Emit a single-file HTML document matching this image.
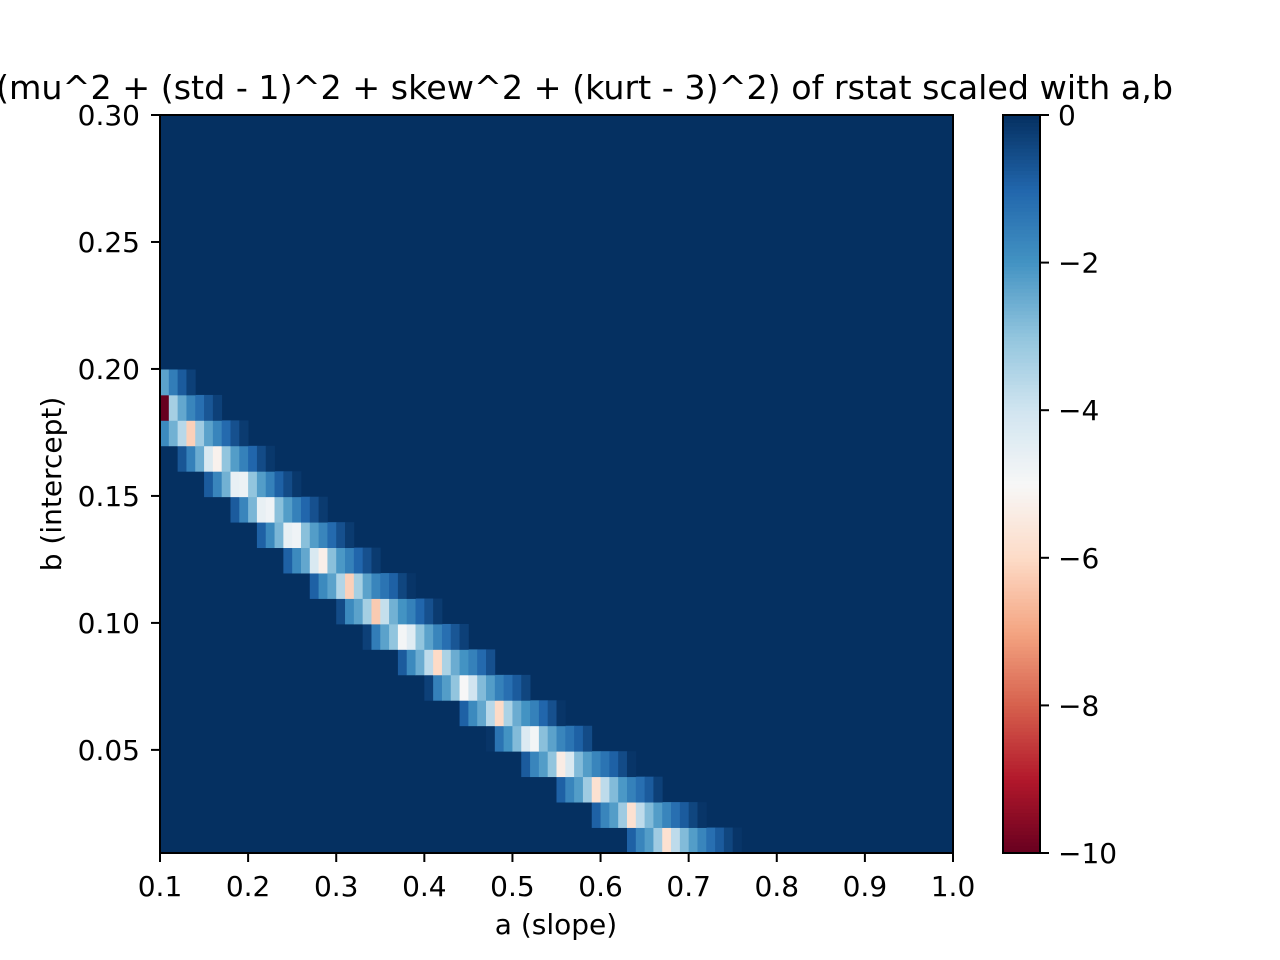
<!DOCTYPE html>
<html><head><meta charset="utf-8"><style>
html,body{margin:0;padding:0;background:#fff;width:1280px;height:960px;overflow:hidden}
svg text{font-family:"DejaVu Sans","Liberation Sans",sans-serif;fill:#000}
</style></head><body>
<svg id="chart" width="1280" height="960" viewBox="0 0 1280 960" xmlns="http://www.w3.org/2000/svg">
<g id="cells"></g>
<g id="axes"></g>
<g id="cbar"></g>
<text x="-4" y="99" font-size="33.2" textLength="1177" lengthAdjust="spacingAndGlyphs">(mu^2 + (std - 1)^2 + skew^2 + (kurt - 3)^2) of rstat scaled with a,b</text>
<text x="556" y="934" font-size="28" text-anchor="middle">a (slope)</text>
<text x="0" y="0" font-size="28" text-anchor="middle" transform="translate(61,484) rotate(-90)">b (intercept)</text>
</svg>
<script>
// data: rows from bottom (r=0 .. 28), 90 columns (a = 0.1..1.0), 29 rows (b = 0.01..0.30)
const nCols = 90;
const nRows = 29;
const rowIndex = [18,17,16,15,14,13,12,11,10,9,8,7,6,5,4,3,2,1,0];
const rowStart = [0,0,0,2,5,8,11,14,17,20,23,27,30,34,37,41,45,49,53];
const rowValues = [
 [-2.3,-1.5,-0.8,-0.3],
 [-10,-3.3,-2.4,-1.7,-1.2,-0.7,-0.3],
 [-1.8,-2.6,-3.6,-6.2,-3.2,-2.3,-1.7,-1.1,-0.6,-0.2],
 [-0.7,-1.6,-2.5,-4.2,-5.2,-3.0,-2.2,-1.6,-1.0,-0.5,-0.15],
 [-0.8,-1.7,-2.6,-4.6,-4.7,-3.0,-2.2,-1.6,-0.9,-0.5,-0.15],
 [-0.8,-1.7,-2.7,-4.6,-4.8,-2.9,-2.2,-1.6,-1.0,-0.6,-0.2],
 [-0.9,-1.8,-2.7,-4.6,-4.8,-2.9,-2.2,-1.7,-1.1,-0.6,-0.2],
 [-0.9,-1.8,-2.4,-4.2,-5.3,-2.9,-2.1,-1.6,-1.0,-0.6,-0.2],
 [-0.9,-1.8,-2.3,-3.5,-6.2,-3.3,-2.3,-1.7,-1.3,-0.9,-0.4,-0.1],
 [-0.5,-1.8,-2.3,-3.3,-6.3,-3.8,-2.6,-2.0,-1.6,-1.0,-0.6,-0.2],
 [-0.3,-1.5,-2.3,-3.0,-4.9,-4.4,-3.0,-2.3,-1.7,-1.2,-0.7,-0.3],
 [-0.8,-1.8,-2.5,-3.7,-6.0,-3.4,-2.5,-2.0,-1.6,-1.1,-0.6],
 [-0.3,-1.6,-2.2,-3.0,-5.0,-4.0,-2.8,-2.2,-1.6,-1.2,-0.8,-0.4],
 [-0.9,-1.8,-2.4,-3.6,-6.0,-3.4,-2.5,-2.0,-1.6,-1.0,-0.6,-0.1],
 [-0.1,-1.3,-2.0,-2.8,-4.3,-4.9,-2.9,-2.3,-1.7,-1.3,-0.9,-0.5],
 [-0.8,-1.7,-2.2,-3.0,-5.4,-4.2,-2.8,-2.2,-1.7,-1.3,-0.9,-0.5,-0.1],
 [-0.9,-1.7,-2.2,-3.2,-5.8,-3.7,-2.8,-2.1,-1.6,-1.2,-0.8,-0.3],
 [-0.9,-1.7,-2.2,-3.2,-5.8,-3.7,-2.8,-2.2,-1.7,-1.2,-0.8,-0.4,-0.1],
 [-0.9,-1.7,-2.2,-3.2,-5.8,-3.7,-2.8,-2.2,-1.7,-1.2,-0.8,-0.4,-0.1]
];
const xTicks = [0.1,0.2,0.3,0.4,0.5,0.6,0.7,0.8,0.9,1.0];
const xTickLabels = ["0.1","0.2","0.3","0.4","0.5","0.6","0.7","0.8","0.9","1.0"];
const yTicks = [0.05,0.10,0.15,0.20,0.25,0.30];
const yTickLabels = ["0.05","0.10","0.15","0.20","0.25","0.30"];
const cTicks = [0,-2,-4,-6,-8,-10];
const cTickLabels = ["0","\u22122","\u22124","\u22126","\u22128","\u221210"];

const NS="http://www.w3.org/2000/svg";
const L=160,R=953,T=115,B=853;
const xMin=0.1,xMax=1.0,yMin=0.0094,yMax=0.30;
const vMin=-10,vMax=0;
function sx(v){return L+(v-xMin)/(xMax-xMin)*(R-L);}
function sy(v){return B-(v-yMin)/(yMax-yMin)*(B-T);}
const cw=(R-L)/nCols, rh=(B-T)/nRows;
const stops=["#67001f","#b2182b","#d6604d","#f4a582","#fddbc7","#f7f7f7","#d1e5f0","#92c5de","#4393c3","#2166ac","#053061"];
function hex(h){return [1,3,5].map(i=>parseInt(h.substr(i,2),16));}
function cmap(v){
  let t=(v-vMin)/(vMax-vMin); t=Math.max(0,Math.min(1,t));
  let p=t*10, i=Math.min(9,Math.floor(p)), f=p-i;
  const a=hex(stops[i]), b=hex(stops[i+1]);
  return "rgb("+a.map((c,k)=>Math.round(c+(b[k]-c)*f)).join(",")+")";
}
function mk(tag,attrs,parent){const e=document.createElementNS(NS,tag);for(const k in attrs)e.setAttribute(k,attrs[k]);parent.appendChild(e);return e;}
const grid=[];for(let r=0;r<nRows;r++){grid.push(new Array(nCols).fill(0));}
rowIndex.forEach((r,i)=>{rowValues[i].forEach((v,k)=>{grid[r][rowStart[i]+k]=v;});});
const cells=document.getElementById('cells');
const bg=mk('rect',{x:L,y:T,width:R-L,height:B-T,fill:cmap(0)},cells);


for(let r=0;r<nRows;r++){for(let c=0;c<nCols;c++){
  const v=grid[r][c]; if(v===0)continue;
  const e=mk('rect',{x:(L+c*cw).toFixed(2),y:(B-(r+1)*rh).toFixed(2),width:(cw+0.4).toFixed(2),height:(rh+0.4).toFixed(2),fill:cmap(v)},cells);
  
  
}}
const ax=document.getElementById('axes');
const fr=mk('rect',{x:L,y:T,width:R-L,height:B-T,fill:'none',stroke:'#000','stroke-width':2},ax);


xTicks.forEach((v,i)=>{const x=sx(v);
  const t=mk('line',{x1:x,x2:x,y1:B,y2:B+9,stroke:'#000','stroke-width':2},ax);
  
  
  const l=mk('text',{x:x,y:896,'font-size':28,'text-anchor':'middle'},ax);l.textContent=xTickLabels[i];
  
  
});
yTicks.forEach((v,i)=>{const y=sy(v);
  const t=mk('line',{x1:L-9,x2:L,y1:y,y2:y,stroke:'#000','stroke-width':2},ax);
  
  
  const l=mk('text',{x:140,y:y+10,'font-size':28,'text-anchor':'end'},ax);l.textContent=yTickLabels[i];
  
  
});
const cb=document.getElementById('cbar');
const CL=1003,CR=1040,CT=115,CB=853,N=200;
for(let i=0;i<N;i++){
  const v=vMin+(i+0.5)/N*(vMax-vMin);
  const y0=CB-(i+1)/N*(CB-CT);
  const e=mk('rect',{x:CL,y:y0.toFixed(2),width:CR-CL,height:((CB-CT)/N+0.6).toFixed(2),fill:cmap(v)},cb);
  
  
}
const cf=mk('rect',{x:CL,y:CT,width:CR-CL,height:CB-CT,fill:'none',stroke:'#000','stroke-width':2},cb);


cTicks.forEach((v,i)=>{const y=CB-(v-vMin)/(vMax-vMin)*(CB-CT);
  const t=mk('line',{x1:CR,x2:CR+9,y1:y,y2:y,stroke:'#000','stroke-width':2},cb);
  
  
  const l=mk('text',{x:1058,y:y+10,'font-size':28},cb);l.textContent=cTickLabels[i];
  
  
});
</script>
</body></html>
